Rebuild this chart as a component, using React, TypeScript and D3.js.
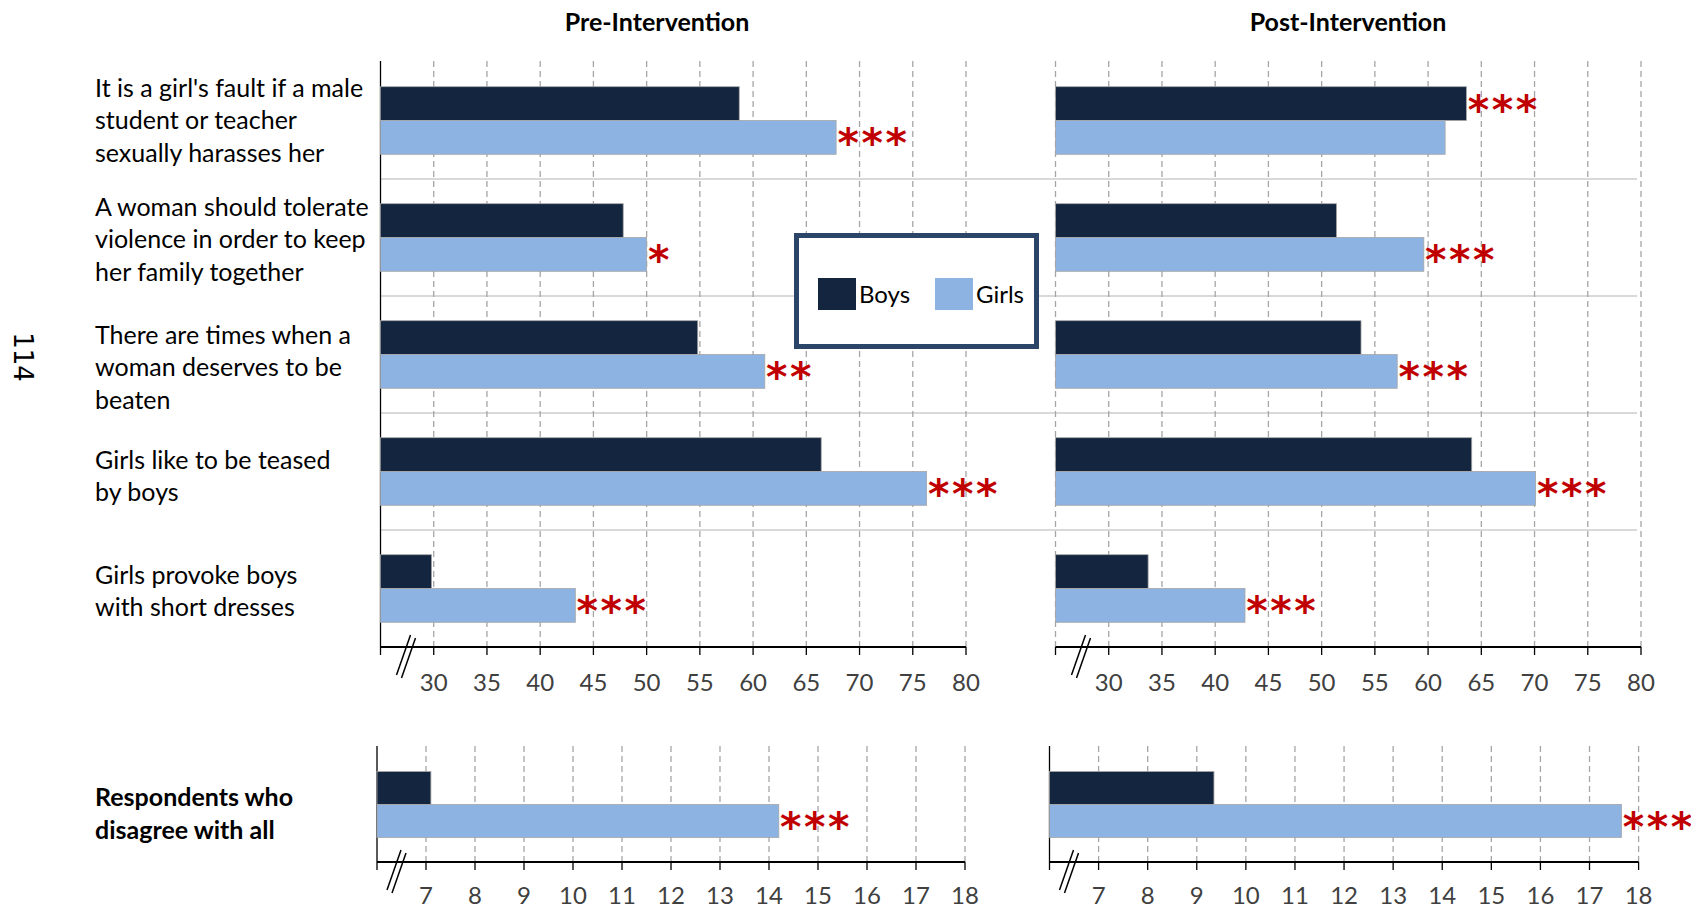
import React, { useEffect } from "react";
import * as d3 from "d3";

// ---------- data ----------
const categories = [
  "It is a girl's fault if a male|student or teacher|sexually harasses her",
  "A woman should tolerate|violence in order to keep|her family together",
  "There are times when a|woman deserves to be|beaten",
  "Girls like to be teased|by boys",
  "Girls provoke boys|with short dresses",
];
const series = ["Boys", "Girls"];
const preBoys = [58.7, 47.8, 54.8, 66.4, 29.8];
const preGirls = [67.8, 50.0, 61.1, 76.3, 43.3];
const postBoys = [63.6, 51.4, 53.7, 64.1, 33.7];
const postGirls = [61.6, 59.6, 57.1, 70.1, 42.8];
const preBoysSig = ["", "", "", "", ""];
const preGirlsSig = ["***", "*", "**", "***", "***"];
const postBoysSig = ["***", "", "", "", ""];
const postGirlsSig = ["", "***", "***", "***", "***"];

const summaryCategory = ["Respondents who|disagree with all"];
const summaryPreBoys = [7.1];
const summaryPreGirls = [14.2];
const summaryPostBoys = [9.35];
const summaryPostGirls = [17.65];
const summaryPreBoysSig = [""];
const summaryPreGirlsSig = ["***"];
const summaryPostBoysSig = [""];
const summaryPostGirlsSig = ["***"];

const topDomain = [25, 80];
const topTicks = [30, 35, 40, 45, 50, 55, 60, 65, 70, 75, 80];
const bottomDomain = [6, 18];
const bottomTicks = [7, 8, 9, 10, 11, 12, 13, 14, 15, 16, 17, 18];
const panelTitles = ["Pre-Intervention", "Post-Intervention"];
const pageNumber = "114";

// ---------- style / layout ----------
const W = 1691;
const H = 909;
const FONT = "Lato, 'Liberation Sans', sans-serif";
const BOYS = "#13253f";
const GIRLS = "#8db3e2";
const RED = "#c00000";
const GRID = "#a6a6a6";
const SEP = "#d9d9d9";
const LEGEND_BORDER = "#2a4568";
const labelOffsets = [0, 2, 13, 5, 3];
const summaryLabelOffsets = [10];

type PanelProps = {
  x0: number;
  x1: number;
  top: number;
  axisY: number;
  domain: number[];
  ticks: number[];
  n: number;
  boys: number[];
  girls: number[];
  boysSig: string[];
  girlsSig: string[];
  leftSolid: boolean;
  breakDx: number;
  barH: number;
  tickLabelDy: number;
};

function Stars({ x, y, s }: { x: number; y: number; s: string }) {
  const chars = s.split("");
  return (
    <g>
      {chars.map((c, i) => (
        <text
          key={i}
          x={x + 12 + i * 24}
          y={y + 20}
          textAnchor="middle"
          fontFamily="'DejaVu Sans', sans-serif"
          fontWeight="bold"
          fontSize={41}
          fill={RED}
        >
          {c}
        </text>
      ))}
    </g>
  );
}

function BarPanel(p: PanelProps) {
  const x = d3.scaleLinear().domain(p.domain).range([p.x0, p.x1]);
  const y = d3
    .scaleBand<number>()
    .domain(d3.range(p.n))
    .range([p.top + 1, p.axisY]);
  const sub = d3.scaleBand<string>().domain(series).range([-p.barH, p.barH]);
  const bx = p.x0 + p.breakDx;
  return (
    <g>
      {p.ticks.map((t) => (
        <line
          key={"g" + t}
          x1={x(t)}
          x2={x(t)}
          y1={p.top}
          y2={p.axisY}
          stroke={GRID}
          strokeWidth={1.3}
          strokeDasharray="6,4"
        />
      ))}
      {p.leftSolid ? (
        <line x1={p.x0} x2={p.x0} y1={p.top} y2={p.axisY} stroke="#000" strokeWidth={1.3} />
      ) : (
        <line
          x1={p.x0}
          x2={p.x0}
          y1={p.top}
          y2={p.axisY}
          stroke={GRID}
          strokeWidth={1.3}
          strokeDasharray="6,4"
        />
      )}
      {d3.range(p.n).map((i) => {
        const c = (y(i) as number) + y.bandwidth() / 2;
        const vals = [p.boys[i], p.girls[i]];
        const sigs = [p.boysSig[i], p.girlsSig[i]];
        return (
          <g key={i}>
            {series.map((s, k) => {
              const yy = c + (sub(s) as number);
              return (
                <g key={s}>
                  <rect
                    x={p.x0}
                    y={yy}
                    width={x(vals[k]) - p.x0}
                    height={sub.bandwidth()}
                    fill={k === 0 ? BOYS : GIRLS}
                    stroke="#a6a6a6"
                    strokeWidth={0.8}
                  />
                  {sigs[k] ? <Stars x={x(vals[k])} y={yy + sub.bandwidth() / 2} s={sigs[k]} /> : null}
                </g>
              );
            })}
          </g>
        );
      })}
      <line x1={p.x0} x2={x(p.domain[1])} y1={p.axisY} y2={p.axisY} stroke="#000" strokeWidth={2} />
      {[p.domain[0], ...p.ticks].map((t) => (
        <line
          key={"t" + t}
          x1={x(t)}
          x2={x(t)}
          y1={p.axisY}
          y2={p.axisY + 8}
          stroke="#000"
          strokeWidth={1.3}
        />
      ))}
      {p.ticks.map((t) => (
        <text
          key={"l" + t}
          x={x(t)}
          y={p.axisY + p.tickLabelDy}
          textAnchor="middle"
          fontFamily={FONT}
          fontSize={24}
          fill="#404040"
        >
          {t}
        </text>
      ))}
      <line x1={bx + 7} y1={p.axisY - 12} x2={bx - 7} y2={p.axisY + 28} stroke="#000" strokeWidth={1.5} />
      <line x1={bx + 12} y1={p.axisY - 9} x2={bx - 2} y2={p.axisY + 31} stroke="#000" strokeWidth={1.5} />
    </g>
  );
}

function Labels({
  cats,
  top,
  bottom,
  offsets,
  bold,
}: {
  cats: string[];
  top: number;
  bottom: number;
  offsets: number[];
  bold: boolean;
}) {
  const y = d3
    .scaleBand<number>()
    .domain(d3.range(cats.length))
    .range([top, bottom]);
  return (
    <g>
      {cats.map((c, i) => {
        const lines = c.split("|");
        const center = (y(i) as number) + y.bandwidth() / 2;
        return (
          <text
            key={i}
            fontFamily={FONT}
            fontSize={25}
            fontWeight={bold ? "bold" : "normal"}
            fill="#000"
          >
            {lines.map((l, j) => (
              <tspan key={j} x={95} y={center + (j - (lines.length - 1) / 2) * 32.5 + 8.5 + offsets[i]}>
                {l}
              </tspan>
            ))}
          </text>
        );
      })}
    </g>
  );
}

export default function App() {
  useEffect(() => {
    document.body.style.margin = "0";
    document.body.style.overflow = "hidden";
  }, []);

  const topY0 = 61;
  const topAxis = 647;
  const botY0 = 746;
  const botAxis = 862;

  const sepScale = d3
    .scaleBand<number>()
    .domain(d3.range(categories.length))
    .range([topY0 + 1, topAxis]);

  return (
    <svg
      width={W}
      height={H}
      viewBox={`0 0 ${W} ${H}`}
      style={{ position: "absolute", left: 0, top: 0, background: "#fff" }}
    >
      <rect x={0} y={0} width={W} height={H} fill="#fff" />
      {/* separators */}
      {d3.range(1, categories.length).map((i) => (
        <line
          key={i}
          x1={381}
          x2={1637}
          y1={sepScale(i) as number}
          y2={sepScale(i) as number}
          stroke={SEP}
          strokeWidth={2}
        />
      ))}
      {/* titles */}
      <text x={657} y={31} textAnchor="middle" fontFamily={FONT} fontWeight="bold" fontSize={25}>
        {panelTitles[0]}
      </text>
      <text x={1348} y={31} textAnchor="middle" fontFamily={FONT} fontWeight="bold" fontSize={25}>
        {panelTitles[1]}
      </text>

      <BarPanel
        x0={380.5}
        x1={966}
        top={topY0}
        axisY={topAxis}
        domain={topDomain}
        ticks={topTicks}
        n={categories.length}
        boys={preBoys}
        girls={preGirls}
        boysSig={preBoysSig}
        girlsSig={preGirlsSig}
        leftSolid={true}
        breakDx={23}
        barH={33.8}
        tickLabelDy={44}
      />
      <BarPanel
        x0={1055.5}
        x1={1641}
        top={topY0}
        axisY={topAxis}
        domain={topDomain}
        ticks={topTicks}
        n={categories.length}
        boys={postBoys}
        girls={postGirls}
        boysSig={postBoysSig}
        girlsSig={postGirlsSig}
        leftSolid={false}
        breakDx={23}
        barH={33.8}
        tickLabelDy={44}
      />
      <BarPanel
        x0={377}
        x1={965}
        top={botY0}
        axisY={botAxis}
        domain={bottomDomain}
        ticks={bottomTicks}
        n={1}
        boys={summaryPreBoys}
        girls={summaryPreGirls}
        boysSig={summaryPreBoysSig}
        girlsSig={summaryPreGirlsSig}
        leftSolid={true}
        breakDx={17}
        barH={33}
        tickLabelDy={42}
      />
      <BarPanel
        x0={1049.5}
        x1={1638.6}
        top={botY0}
        axisY={botAxis}
        domain={bottomDomain}
        ticks={bottomTicks}
        n={1}
        boys={summaryPostBoys}
        girls={summaryPostGirls}
        boysSig={summaryPostBoysSig}
        girlsSig={summaryPostGirlsSig}
        leftSolid={true}
        breakDx={17}
        barH={33}
        tickLabelDy={42}
      />

      <Labels cats={categories} top={topY0 + 1} bottom={topAxis} offsets={labelOffsets} bold={false} />
      <Labels cats={summaryCategory} top={botY0} bottom={botAxis} offsets={summaryLabelOffsets} bold={true} />

      {/* legend */}
      <g>
        <rect x={796.5} y={235.5} width={240} height={111} fill="#fff" stroke={LEGEND_BORDER} strokeWidth={5} />
        {series.map((s, k) => (
          <g key={s}>
            <rect x={818 + k * 117} y={278} width={38} height={32} fill={k === 0 ? BOYS : GIRLS} />
            <text x={859 + k * 117} y={302.5} fontFamily={FONT} fontSize={24} fill="#000">
              {s}
            </text>
          </g>
        ))}
      </g>

      {/* page number */}
      <text
        transform="translate(14,357) rotate(90)"
        textAnchor="middle"
        fontFamily="'DejaVu Sans', sans-serif"
        fontSize={26}
        fill="#000"
      >
        {pageNumber}
      </text>
    </svg>
  );
}
